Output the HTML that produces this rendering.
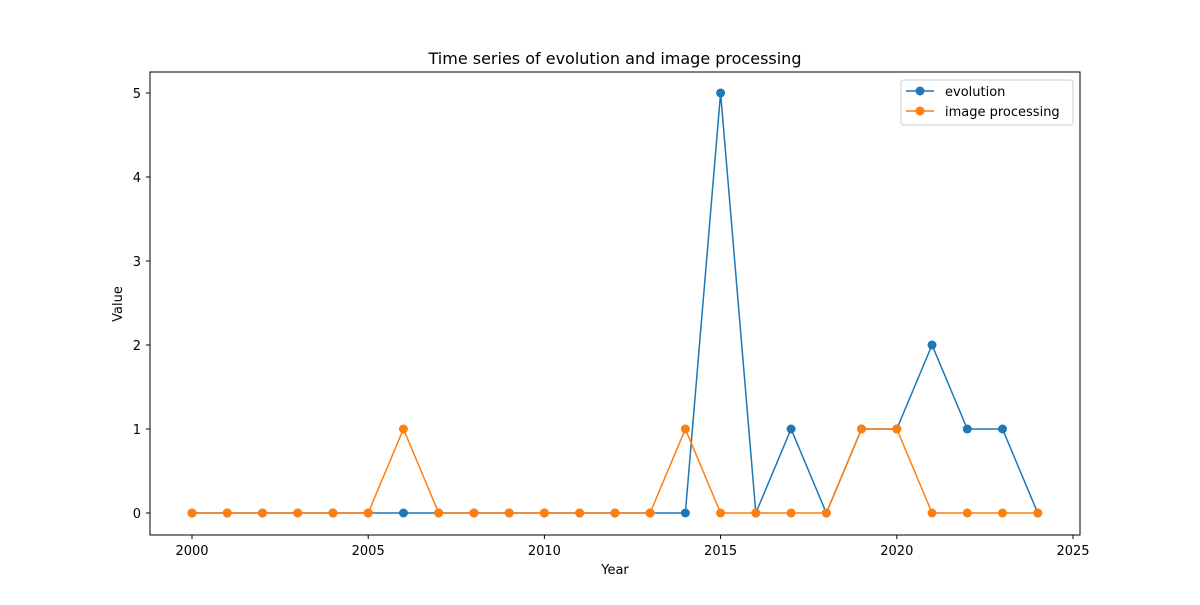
<!DOCTYPE html>
<html><head><meta charset="utf-8"><style>
body{margin:0;background:#fff;font-family:"Liberation Sans","DejaVu Sans",sans-serif;}
svg text{font-family:"DejaVu Sans","Liberation Sans",sans-serif;}
</style></head><body>
<svg id="chart" width="1200" height="600" xmlns="http://www.w3.org/2000/svg">
<rect width="1200" height="600" fill="#fff"/>
<text x="615" y="64" text-anchor="middle" font-size="16">Time series of evolution and image processing</text>
<g id="axes"></g>
<g id="series"></g>
<rect x="150" y="72" width="930" height="463" fill="none" stroke="#000" stroke-width="1"/>
<text x="615" y="574" text-anchor="middle" font-size="13">Year</text>
<text transform="translate(122,304) rotate(-90)" text-anchor="middle" font-size="13">Value</text>
<g>
<rect x="901" y="80" width="172" height="45" fill="#fff" stroke="#ccc" rx="3"/>
<line x1="906" y1="91" x2="934" y2="91" stroke="#1f77b4" stroke-width="1.5"/><circle cx="920" cy="91" r="4.5" fill="#1f77b4"/>
<text x="945" y="96" font-size="13">evolution</text>
<line x1="906" y1="111" x2="934" y2="111" stroke="#ff7f0e" stroke-width="1.5"/><circle cx="920" cy="111" r="4.5" fill="#ff7f0e"/>
<text x="945" y="116" font-size="13">image processing</text>
</g>
</svg>
<script>
const years=[2000,2001,2002,2003,2004,2005,2006,2007,2008,2009,2010,2011,2012,2013,2014,2015,2016,2017,2018,2019,2020,2021,2022,2023,2024];
const evolution=[0,0,0,0,0,0,0,0,0,0,0,0,0,0,0,5,0,1,0,1,1,2,1,1,0];
const imageProcessing=[0,0,0,0,0,0,1,0,0,0,0,0,0,0,1,0,0,0,0,1,1,0,0,0,0];
const xTicks=[2000,2005,2010,2015,2020,2025];
const yTicks=[0,1,2,3,4,5];
const NS="http://www.w3.org/2000/svg";
function xs(v){return 192+(v-2000)*(1073-192)/25;}
function ys(v){return 513-v*84;}
const axes=document.getElementById('axes'),series=document.getElementById('series');
function mk(t,a,p){const e=document.createElementNS(NS,t);for(const k in a)e.setAttribute(k,a[k]);p.appendChild(e);return e;}
xTicks.forEach(t=>{mk('line',{x1:xs(t),x2:xs(t),y1:535,y2:539,stroke:'#000'},axes);
const l=mk('text',{x:xs(t),y:555,'text-anchor':'middle','font-size':'13'},axes);l.textContent=t;

});
yTicks.forEach(t=>{mk('line',{x1:146,x2:150,y1:ys(t),y2:ys(t),stroke:'#000'},axes);
const l=mk('text',{x:141,y:ys(t)+5,'text-anchor':'end','font-size':'13'},axes);l.textContent=t;

});
function draw(vals,color,name){
const p=mk('polyline',{points:vals.map((v,i)=>xs(years[i])+','+ys(v)).join(' '),fill:'none',stroke:color,'stroke-width':1.5},series);


vals.forEach((v,i)=>{const c=mk('circle',{cx:xs(years[i]),cy:ys(v),r:4.5,fill:color},series);

});}
draw(evolution,'#1f77b4','evolution');
draw(imageProcessing,'#ff7f0e','image-processing');
</script>
</body></html>
